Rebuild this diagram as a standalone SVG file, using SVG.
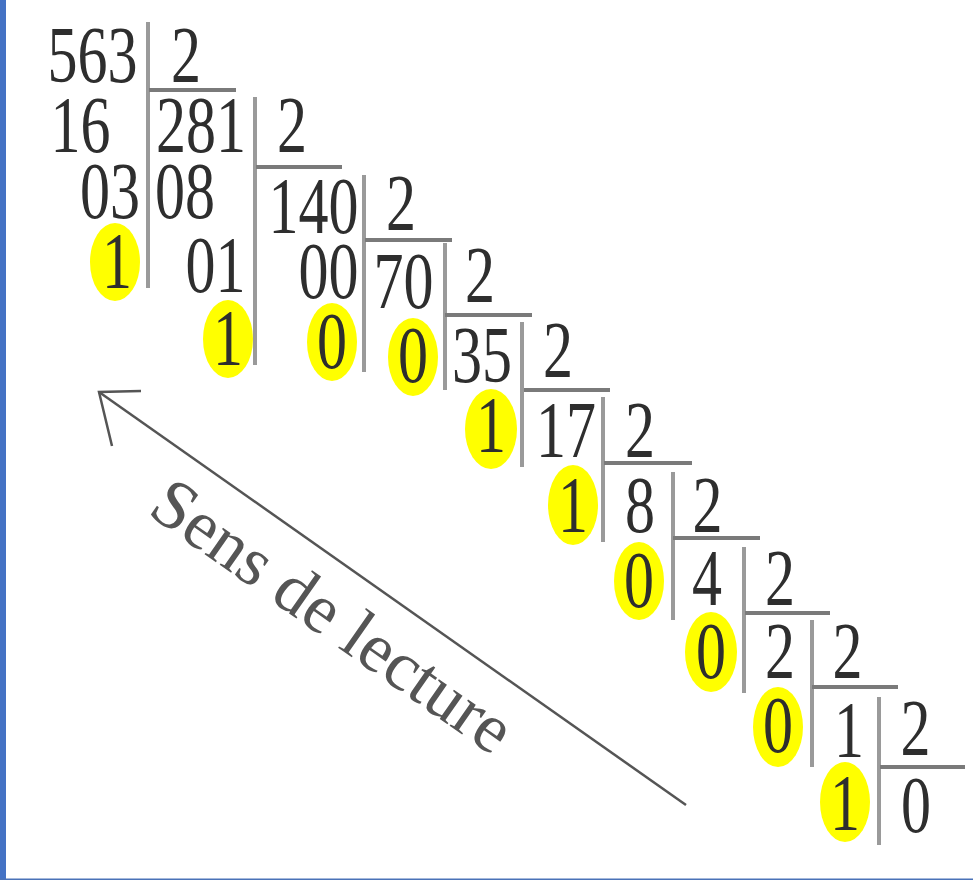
<svg xmlns="http://www.w3.org/2000/svg" width="973" height="880" viewBox="0 0 973 880">
<style>
  .d { font-family: "Liberation Serif", "Times New Roman", serif; font-size: 80px; fill: #2e2e2e; text-anchor: middle; }
  .hl { fill: #FFFF00; }
  .v { stroke: #9a9a9a; stroke-width: 4; }
  .h { stroke: #7a7a7a; stroke-width: 4; }
  .lbl { font-family: "Liberation Serif", "Times New Roman", serif; font-size: 70px; fill: #555; text-anchor: middle; }
</style>
<rect x="0" y="0" width="973" height="880" fill="#ffffff"/>
<rect x="0" y="0" width="6" height="880" fill="#4472C4"/>
<rect x="0" y="878.5" width="973" height="1.5" fill="#4a72b8"/>

<g id="highlights">
  <ellipse class="hl" cx="115" cy="262" rx="25" ry="39"/>
  <ellipse class="hl" cx="228" cy="339" rx="25" ry="39"/>
  <ellipse class="hl" cx="332" cy="342" rx="25" ry="39"/>
  <ellipse class="hl" cx="413" cy="357" rx="25" ry="39"/>
  <ellipse class="hl" cx="491" cy="429" rx="26" ry="40"/>
  <ellipse class="hl" cx="573" cy="505" rx="25" ry="40"/>
  <ellipse class="hl" cx="639" cy="581" rx="25" ry="39"/>
  <ellipse class="hl" cx="711" cy="652" rx="26" ry="40"/>
  <ellipse class="hl" cx="778" cy="727" rx="25" ry="40"/>
  <ellipse class="hl" cx="845" cy="802" rx="25" ry="40"/>
</g>

<g id="step1">
  <line class="v" x1="148" y1="22" x2="148" y2="288"/>
  <line class="h" x1="149" y1="90" x2="236" y2="90"/>
  <text class="d" transform="translate(92.5,82) scale(0.75,1)">563</text>
  <text class="d" transform="translate(186,82) scale(0.75,1)">2</text>
  <text class="d" transform="translate(80.5,152) scale(0.75,1)">16</text>
  <text class="d" transform="translate(110,218) scale(0.75,1)">03</text>
  <text class="d" transform="translate(117,288) scale(0.75,1)">1</text>
</g>

<g id="step2">
  <line class="v" x1="255" y1="97" x2="255" y2="365"/>
  <line class="h" x1="256" y1="167" x2="342" y2="167"/>
  <text class="d" transform="translate(201,152) scale(0.75,1)">281</text>
  <text class="d" transform="translate(292,152) scale(0.75,1)">2</text>
  <text class="d" transform="translate(185,218) scale(0.75,1)">08</text>
  <text class="d" transform="translate(215.5,292) scale(0.75,1)">01</text>
  <text class="d" transform="translate(228,365) scale(0.75,1)">1</text>
</g>

<g id="step3">
  <line class="v" x1="364" y1="175" x2="364" y2="372"/>
  <line class="h" x1="365" y1="240" x2="452" y2="240"/>
  <text class="d" transform="translate(313.5,233) scale(0.75,1)">140</text>
  <text class="d" transform="translate(401,230) scale(0.75,1)">2</text>
  <text class="d" transform="translate(328.5,298) scale(0.75,1)">00</text>
  <text class="d" transform="translate(332,368) scale(0.75,1)">0</text>
</g>

<g id="step4">
  <line class="v" x1="445" y1="243" x2="445" y2="390"/>
  <line class="h" x1="445" y1="315" x2="532" y2="315"/>
  <text class="d" transform="translate(403.5,308) scale(0.75,1)">70</text>
  <text class="d" transform="translate(480,302) scale(0.75,1)">2</text>
  <text class="d" transform="translate(413,382) scale(0.75,1)">0</text>
</g>

<g id="step5">
  <line class="v" x1="522" y1="322" x2="522" y2="467"/>
  <line class="h" x1="524" y1="390" x2="610" y2="390"/>
  <text class="d" transform="translate(482,382) scale(0.75,1)">35</text>
  <text class="d" transform="translate(558,377) scale(0.75,1)">2</text>
  <text class="d" transform="translate(491,452) scale(0.75,1)">1</text>
</g>

<g id="step6">
  <line class="v" x1="603" y1="397" x2="603" y2="542"/>
  <line class="h" x1="604" y1="463" x2="692" y2="463"/>
  <text class="d" transform="translate(566,457) scale(0.75,1)">17</text>
  <text class="d" transform="translate(640,457) scale(0.75,1)">2</text>
  <text class="d" transform="translate(573,532) scale(0.75,1)">1</text>
</g>

<g id="step7">
  <line class="v" x1="673" y1="472" x2="673" y2="620"/>
  <line class="h" x1="673" y1="538" x2="760" y2="538"/>
  <text class="d" transform="translate(640,532) scale(0.75,1)">8</text>
  <text class="d" transform="translate(707.5,532) scale(0.75,1)">2</text>
  <text class="d" transform="translate(639,607) scale(0.75,1)">0</text>
</g>

<g id="step8">
  <line class="v" x1="744" y1="547" x2="744" y2="693"/>
  <line class="h" x1="745" y1="613" x2="830" y2="613"/>
  <text class="d" transform="translate(707,605) scale(0.75,1)">4</text>
  <text class="d" transform="translate(780,605) scale(0.75,1)">2</text>
  <text class="d" transform="translate(711,678) scale(0.75,1)">0</text>
</g>

<g id="step9">
  <line class="v" x1="812" y1="620" x2="812" y2="767"/>
  <line class="h" x1="812" y1="687" x2="898" y2="687"/>
  <text class="d" transform="translate(780,678) scale(0.75,1)">2</text>
  <text class="d" transform="translate(847.5,678) scale(0.75,1)">2</text>
  <text class="d" transform="translate(778,752) scale(0.75,1)">0</text>
</g>

<g id="step10">
  <line class="v" x1="879" y1="697" x2="879" y2="845"/>
  <line class="h" x1="880" y1="767" x2="965" y2="767"/>
  <text class="d" transform="translate(849,757) scale(0.75,1)">1</text>
  <text class="d" transform="translate(915.5,755) scale(0.75,1)">2</text>
  <text class="d" transform="translate(845,830) scale(0.75,1)">1</text>
  <text class="d" transform="translate(916,832) scale(0.75,1)">0</text>
</g>

<g id="connectors">
  <line x1="686" y1="805" x2="99" y2="392" stroke="#555" stroke-width="2.5"/>
  <polyline points="141,391 99,392 112,446" fill="none" stroke="#555" stroke-width="2.5"/>
</g>

<g id="label">
  <text class="lbl" transform="translate(319.5,634.7) rotate(35)">Sens de lecture</text>
</g>
</svg>
